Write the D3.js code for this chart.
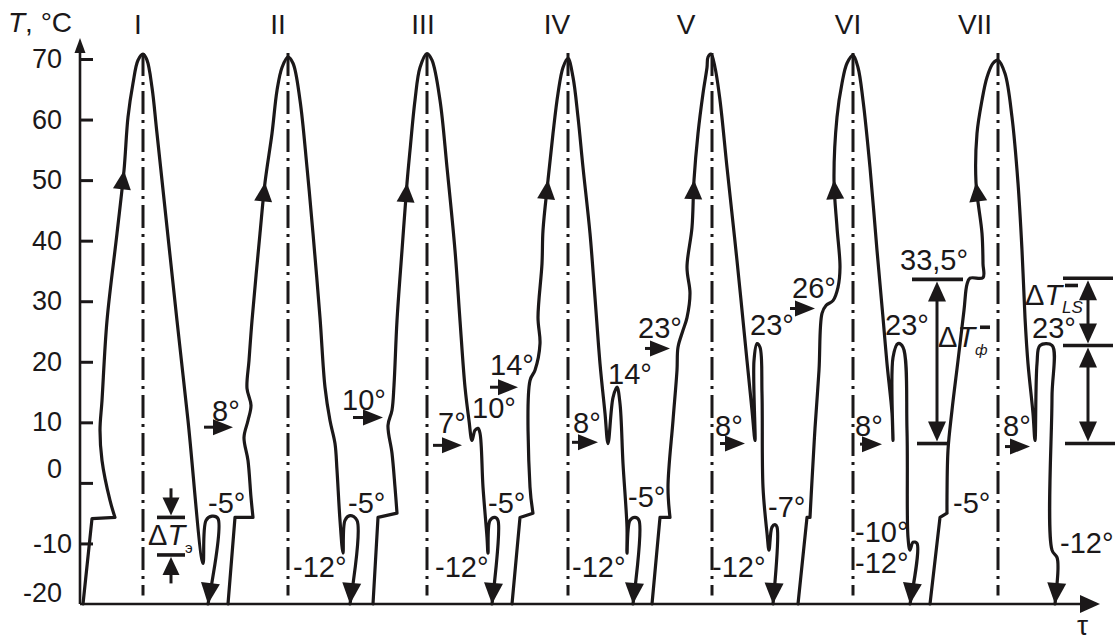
<!DOCTYPE html>
<html>
<head>
<meta charset="utf-8">
<script src="https://cdn.jsdelivr.net/npm/d3@7"></script>
<style>
    body { margin: 0; background: #ffffff; }
    text { font-family: "Liberation Sans", Arial, sans-serif; }
</style>
</head>
<body>
<div id="chart"></div>
<script>
var width = 1118, height = 642;
var ink = "#1b1819";

// T axis ticks (deg C)
var tempTicks = [70, 60, 50, 40, 30, 20, 10, 0, -10, -20];

// cycle names and the tau of each peak (dash-dot centre line)
var cycleNames = ["I", "II", "III", "IV", "V", "VI", "VII"];
var cycleCenters = [63, 208, 347, 488, 632, 773, 918];
var nameTau = [58, 198, 343, 477, 606, 768, 895];

// the seven temperature cycles, [tau, T]
var cycle1 = [[3, -20], [12, -5.9], [35, -5.7], [30, -2.9], [22, 3.7], [20, 8.7], [22, 13.6], [27, 26.8], [37, 41.2], [44, 51.6], [48, 60.4], [53, 66.0], [58, 69.8], [63, 70.8], [67, 69.8], [72, 65.3], [77, 57.7], [97, 26.8], [108, 10.3], [123, -13.3], [126, -6.2], [132, -5.5], [138, -5.9], [128, -20]];
var cycle2 = [[148, -20], [155, -5.7], [173, -5.7], [171, -2.4], [168, 3.7], [164, 7.5], [168, 10.3], [171, 12.8], [167, 15.6], [169, 20.2], [172, 26.8], [180, 41.2], [185, 49.6], [192, 57.7], [197, 64.8], [202, 68.6], [208, 70.3], [213, 69.3], [220, 63.2], [227, 52.1], [233, 41.2], [240, 27.3], [245, 15.8], [250, 10.3], [255, 6.5], [257, 2.1], [260, -6.2], [263, -11.6], [265, -6.2], [270, -5.4], [277, -6.2], [270, -20]];
var cycle3 = [[293, -20], [298, -5.7], [317, -5.0], [315, -0.7], [312, 4.9], [308, 9.5], [312, 12.0], [314, 16.1], [317, 26.8], [322, 38.4], [327, 49.5], [330, 54.9], [335, 63.2], [340, 68.6], [347, 70.9], [352, 69.8], [360, 63.2], [367, 52.1], [375, 38.4], [380, 26.8], [385, 15.8], [389, 10.3], [392, 7.0], [395, 8.7], [398, 9.0], [400, 8.2], [403, -0.7], [407, -9.0], [408, -11.6], [410, -6.2], [415, -5.7], [418, -6.2], [412, -20]];
var cycle4 = [[432, -20], [440, -5.7], [453, -5.0], [450, -0.7], [450, 16.9], [455, 18.6], [460, 23.0], [458, 27.3], [462, 36.2], [463, 41.7], [468, 50.0], [473, 57.7], [478, 64.3], [483, 68.6], [488, 70.1], [493, 67.0], [498, 60.4], [503, 52.1], [510, 41.2], [515, 30.6], [520, 19.7], [525, 11.5], [528, 6.5], [533, 14.1], [537, 15.8], [540, 13.1], [543, 3.2], [547, -7.3], [547, -11.6], [550, -6.2], [555, -5.7], [559, -6.2], [553, -20]];
var cycle5 = [[572, -20], [580, -5.7], [590, -5.7], [588, -0.7], [593, 10.3], [597, 18.6], [598, 22.4], [603, 25.2], [607, 27.3], [610, 31.3], [607, 35.6], [612, 42.2], [614, 50.0], [618, 57.7], [623, 64.3], [627, 68.6], [628, 70.3], [631, 70.8], [635, 68.6], [640, 63.2], [647, 52.1], [657, 36.7], [667, 20.2], [672, 12.0], [675, 7.0], [674, 20.2], [677, 23.0], [680, 22.4], [682, 14.8], [683, -0.7], [687, -8.3], [689, -11.1], [692, -7.3], [695, -6.9], [697, -7.3], [693, -20]];
var cycle6 = [[718, -20], [727, -5.7], [730, -5.7], [732, 0.4], [735, 9.0], [739, 18.6], [742, 28.0], [746, 29.3], [753, 30.1], [758, 32.3], [760, 35.6], [757, 42.2], [754, 50.0], [757, 60.4], [762, 66.0], [767, 69.3], [773, 70.6], [778, 68.6], [783, 63.2], [790, 52.1], [797, 38.4], [803, 27.3], [807, 19.7], [812, 11.5], [813, 7.0], [813, 20.7], [818, 23.0], [823, 22.4], [827, 8.7], [828, -9.0], [830, -11.1], [833, -9.8], [837, -10.0], [830, -20]];
var cycle7 = [[850, -20], [860, -5.7], [867, -5.0], [867, -2.4], [868, 5.4], [872, 12.0], [878, 20.2], [884, 28.5], [887, 32.8], [890, 33.8], [903, 33.9], [903, 36.2], [902, 41.2], [896, 49.6], [897, 57.7], [902, 63.2], [907, 67.0], [913, 69.3], [918, 69.8], [925, 67.6], [932, 60.4], [938, 49.5], [942, 38.4], [945, 27.3], [948, 19.7], [953, 11.5], [955, 7.0], [957, 19.7], [960, 22.7], [972, 22.7], [972, 14.1], [972, -11.1], [977, -12.3], [978, -14.0], [975, -20]];
var cycles = [cycle1, cycle2, cycle3, cycle4, cycle5, cycle6, cycle7];

// small pointer arrows, [tau from, tau to, T]
var pointers = [[124, 153, 9.2], [273, 303, 10.8], [353, 382, 6.2], [410, 438, 15.8], [492, 518, 6.7], [565, 590, 22.2], [640, 665, 6.5], [710, 735, 28.8], [780, 802, 6.4], [925, 950, 6.0]];

// temperature marks, [text, tau, T] (text start, baseline)
var marks = [["8°", 132, 10.3], ["-5°", 128, -5.0], ["-5°", 268, -4.9], ["-12°", 213, -15.6], ["10°", 262, 12.0], ["7°", 358, 8.2], ["10°", 392, 10.7], ["14°", 410, 17.8], ["-5°", 408, -4.9], ["-12°", 355, -15.6], ["14°", 528, 16.4], ["8°", 493, 8.3], ["23°", 558, 24.0], ["-5°", 548, -4.0], ["-12°", 492, -15.6], ["8°", 635, 7.8], ["23°", 670, 24.4], ["26°", 712, 30.6], ["-7°", 688, -5.7], ["-12°", 632, -15.6], ["8°", 775, 7.8], ["23°", 805, 24.4], ["-10°", 775, -9.8], ["-12°", 775, -14.9], ["33,5°", 820, 35.1], ["-5°", 873, -5.0], ["8°", 923, 7.8], ["23°", 952, 23.9], ["-12°", 980, -11.6]];

// level bars, [tau from, tau to, T]
var bars = [[77, 105, -5.7], [77, 105, -11.9], [832, 883, 33.6], [837, 868, 6.5], [983, 1033, 33.8], [983, 1033, 22.7], [985, 1035, 6.5], [900, 910, 25.7], [985, 998, 32.6]];
// single vertical arrows, [tau, T tail, T tip]
var singleArrows = [[91, -0.9, -5.7], [91, -16.6, -11.9]];
// double vertical arrows, [tau, T1, T2]
var doubleArrows = [[857, 33.6, 6.5], [1008, 33.8, 22.7], [1008, 22.7, 6.5]];
// delta labels, [subscript, tau, T]
var deltas = [["э", 68, -10.2], ["ф", 858, 22.4], ["LS", 945, 29.3]];

var svg = d3.select("#chart")
    .append("svg")
    .attr("width", width)
    .attr("height", height);

var x = d3.scaleLinear().domain([0, 1020]).range([80, 1100]);
var y = d3.scaleLinear().domain([-20, 70]).range([604, 59]);

var smooth = d3.line()
    .x(function (d) { return x(d[0]); })
    .y(function (d) { return y(d[1]); })
    .curve(d3.curveCatmullRom.alpha(0.5));

var straight = d3.line()
    .x(function (d) { return x(d[0]); })
    .y(function (d) { return y(d[1]); });

// triangle with the tip at (tx,ty), pointing away from (fx,fy)
function arrowHead(tx, ty, fx, fy, len, half) {
    var dx = tx - fx, dy = ty - fy, l = Math.sqrt(dx * dx + dy * dy);
    var ux = dx / l, uy = dy / l;
    var bx = tx - ux * len, by = ty - uy * len;
    return "M" + tx + "," + ty +
        "L" + (bx - uy * half) + "," + (by + ux * half) +
        "L" + (bx + uy * half) + "," + (by - ux * half) + "Z";
}

// dash-dot centre lines
svg.append("g")
    .selectAll("line")
    .data(cycleCenters)
    .enter().append("line")
    .attr("x1", function (d) { return x(d); })
    .attr("x2", function (d) { return x(d); })
    .attr("y1", y(71))
    .attr("y2", y(-18.6))
    .style("stroke", ink)
    .style("stroke-width", 3)
    .style("stroke-dasharray", "23,6,3,6");

// axes
svg.append("path")
    .attr("d", "M" + x(0) + "," + y(-20) + "V" + (y(70) - 8))
    .style("stroke", ink)
    .style("stroke-width", 2.6)
    .style("fill", "none");
svg.append("path")
    .attr("d", arrowHead(x(0), y(70) - 21, x(0), y(-20), 15, 5.5))
    .style("fill", ink);
svg.append("path")
    .attr("d", "M" + x(0) + "," + y(-20) + "H" + (x(1020) - 12))
    .style("stroke", ink)
    .style("stroke-width", 2.6)
    .style("fill", "none");
svg.append("path")
    .attr("d", arrowHead(x(1020), y(-20), x(0), y(-20), 20, 9))
    .style("fill", ink);

var yAxis = svg.append("g")
    .attr("transform", "translate(" + x(0) + ",0)")
    .call(d3.axisLeft(y).tickValues(tempTicks).tickSize(-13).tickPadding(18)
        .tickFormat(function (d) { return String(d); }));

yAxis.select(".domain").remove();
yAxis.selectAll(".tick line")
    .style("stroke", ink)
    .style("stroke-width", 3)
    .filter(function (d) { return d === -20; })
    .remove();
yAxis.selectAll("text")
    .style("font-size", "27px")
    .style("font-family", "Liberation Sans, Arial, sans-serif")
    .style("fill", ink)
    .attr("x", function (d) { return d === -10 ? -8 : -18; })
    .attr("dy", function (d) {
        if (d === 0) return "-0.2em";
        if (d === -20) return "-0.09em";
        return "0.32em";
    });

// axis titles
var tTitle = svg.append("text")
    .attr("x", 8)
    .attr("y", 32)
    .style("font-size", "28px")
    .style("fill", ink);
tTitle.append("tspan").style("font-style", "italic").text("T");
tTitle.append("tspan").text(", °C");

svg.append("text")
    .attr("x", x(997))
    .attr("y", 635)
    .style("font-size", "28px")
    .style("fill", ink)
    .text("τ");

// cycle numbers
svg.append("g")
    .selectAll("text")
    .data(cycleNames)
    .enter().append("text")
    .attr("x", function (d, i) { return x(nameTau[i]); })
    .attr("y", 34)
    .attr("text-anchor", "middle")
    .style("font-size", "28px")
    .style("fill", ink)
    .text(function (d) { return d; });

// cycle curves with their arrows: the start and the step are straight,
// the rest is smooth
cycles.forEach(function (pts) {
    svg.append("path")
        .attr("d", straight(pts.slice(0, 3)) + smooth(pts.slice(2)))
        .style("fill", "none")
        .style("stroke", ink)
        .style("stroke-width", 3.2)
        .style("stroke-linejoin", "round")
        .style("stroke-linecap", "round");

    var i = pts.findIndex(function (d) { return d[1] >= 49; });
    svg.append("path")
        .attr("d", arrowHead(x(pts[i][0]), y(pts[i][1]), x(pts[i - 1][0]), y(pts[i - 1][1]), 19, 9))
        .style("fill", ink);

    var n = pts.length;
    svg.append("path")
        .attr("d", arrowHead(x(pts[n - 1][0]), y(pts[n - 1][1]), x(pts[n - 2][0]), y(pts[n - 2][1]), 21, 9.5))
        .style("fill", ink);
});

// pointer arrows
var ptr = svg.append("g").selectAll("g")
    .data(pointers)
    .enter().append("g");
ptr.append("line")
    .attr("x1", function (d) { return x(d[0]); })
    .attr("x2", function (d) { return x(d[1]) - 15; })
    .attr("y1", function (d) { return y(d[2]); })
    .attr("y2", function (d) { return y(d[2]); })
    .style("stroke", ink)
    .style("stroke-width", 3);
ptr.append("path")
    .attr("d", function (d) { return arrowHead(x(d[1]), y(d[2]), x(d[0]), y(d[2]), 20, 8); })
    .style("fill", ink);

// temperature marks
svg.append("g")
    .selectAll("text")
    .data(marks)
    .enter().append("text")
    .attr("x", function (d) { return x(d[1]); })
    .attr("y", function (d) { return y(d[2]); })
    .style("font-size", "29px")
    .style("fill", ink)
    .text(function (d) { return d[0]; });

// level bars
svg.append("g")
    .selectAll("line")
    .data(bars)
    .enter().append("line")
    .attr("x1", function (d) { return x(d[0]); })
    .attr("x2", function (d) { return x(d[1]); })
    .attr("y1", function (d) { return y(d[2]); })
    .attr("y2", function (d) { return y(d[2]); })
    .style("stroke", ink)
    .style("stroke-width", 3.6);

singleArrows.forEach(function (d) {
    var dir = d[2] > d[1] ? 1 : -1;
    svg.append("line")
        .attr("x1", x(d[0])).attr("x2", x(d[0]))
        .attr("y1", y(d[1])).attr("y2", y(d[2]) + dir * 14)
        .style("stroke", ink).style("stroke-width", 3);
    svg.append("path")
        .attr("d", arrowHead(x(d[0]), y(d[2]) + dir * 2, x(d[0]), y(d[1]), 18, 8.5))
        .style("fill", ink);
});

doubleArrows.forEach(function (d) {
    var top = y(d[1]) + 2, bottom = y(d[2]) - 2;
    svg.append("line")
        .attr("x1", x(d[0])).attr("x2", x(d[0]))
        .attr("y1", top + 12).attr("y2", bottom - 12)
        .style("stroke", ink).style("stroke-width", 3);
    svg.append("path")
        .attr("d", arrowHead(x(d[0]), top, x(d[0]), bottom, 20, 9))
        .style("fill", ink);
    svg.append("path")
        .attr("d", arrowHead(x(d[0]), bottom, x(d[0]), top, 20, 9))
        .style("fill", ink);
});

// delta T labels
deltas.forEach(function (d) {
    var t = svg.append("text")
        .attr("x", x(d[1]))
        .attr("y", y(d[2]))
        .style("font-size", "29px")
        .style("fill", ink);
    t.append("tspan").text("Δ");
    t.append("tspan").style("font-style", "italic").text("T");
    t.append("tspan")
        .attr("dy", 8)
        .style("font-size", d[0] === "LS" ? "17px" : "15px")
        .style("font-style", d[0] === "э" ? "normal" : "italic")
        .text(d[0]);
});
</script>
</body>
</html>
